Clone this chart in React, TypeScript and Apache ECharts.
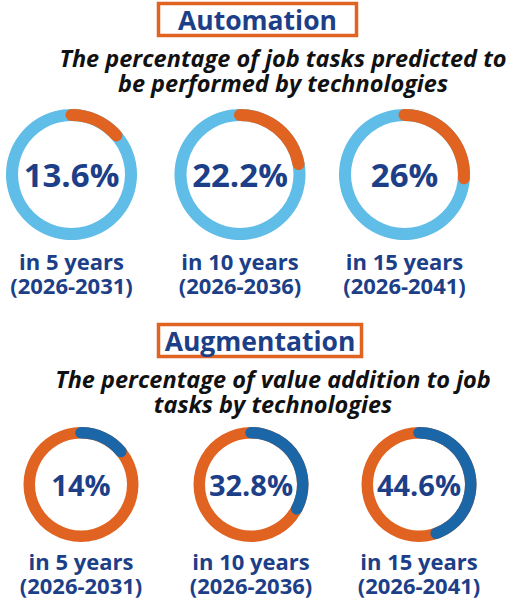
import React, { useEffect, useRef } from "react";
import * as echarts from "echarts";

const periodNames = ["in 5 years", "in 10 years", "in 15 years"];
const periodRanges = ["(2026-2031)", "(2026-2036)", "(2026-2041)"];
const automationValues = [13.6, 22.2, 26];
const augmentationValues = [14, 32.8, 44.6];
const sectionTitles = ["Automation", "Augmentation"];
const automationSubtitle = ["The percentage of job tasks predicted to", "be performed by technologies"];
const augmentationSubtitle = ["The percentage of value addition to job", "tasks by technologies"];

const NAVY = "#1d3f88";
const ORANGE = "#e06322";
const LIGHTBLUE = "#5fbde7";
const BLUE = "#1b66a7";
const FONT = "'Open Sans', 'Noto Sans', sans-serif";

function ring(
  value: number,
  cx: number,
  cy: number,
  r: number,
  w: number,
  bg: string,
  fg: string,
  detailSize: number
) {
  return {
    type: "gauge",
    center: [cx, cy],
    radius: r,
    startAngle: 90,
    endAngle: -270,
    min: 0,
    max: 100,
    pointer: { show: false },
    axisTick: { show: false },
    splitLine: { show: false },
    axisLabel: { show: false },
    axisLine: { lineStyle: { width: w, color: [[1, bg]] } },
    progress: { show: true, width: w, roundCap: true, itemStyle: { color: fg } },
    anchor: { show: false },
    title: { show: false },
    detail: {
      show: true,
      offsetCenter: [0, 0],
      valueAnimation: false,
      formatter: (v: number) => `${v}%`,
      color: NAVY,
      fontSize: detailSize,
      fontWeight: "bold",
      fontFamily: FONT,
    },
    data: [{ value }],
  };
}

const txt = (text: string, x: number, y: number, font: string, fill: string) => ({
  type: "text",
  x,
  y,
  style: { text, fill, font, align: "center", verticalAlign: "middle" },
});

export default function App() {
  const ref = useRef<HTMLDivElement>(null);
  useEffect(() => {
    if (!ref.current) return;
    const chart = echarts.init(ref.current, undefined, { renderer: "svg" });
    const topCx = [71.5, 240, 404.5];
    const botCx = [81, 251, 419];
    const series: any[] = [];
    const graphic: any[] = [];
    const labelFont = `bold 22px ${FONT}`;
    automationValues.forEach((v, i) => {
      series.push(ring(v, topCx[i], 174.5, 65.5, 12, LIGHTBLUE, ORANGE, 33));
      graphic.push(txt(periodNames[i], topCx[i], 261, labelFont, NAVY));
      graphic.push(txt(periodRanges[i], topCx[i], 285, labelFont, NAVY));
    });
    augmentationValues.forEach((v, i) => {
      series.push(ring(v, botCx[i], 484.5, 57.5, 11.5, ORANGE, BLUE, 29));
      graphic.push(txt(periodNames[i], botCx[i], 561, labelFont, NAVY));
      graphic.push(txt(periodRanges[i], botCx[i], 585, labelFont, NAVY));
    });
    const titleBox = (text: string, x: number, y: number, w: number, h: number) => [
      {
        type: "rect",
        shape: { x, y, width: w, height: h },
        style: { fill: "#fff", stroke: ORANGE, lineWidth: 3.5 },
      },
      txt(text, x + w / 2, y + h / 2, `bold 26.5px ${FONT}`, NAVY),
    ];
    const subFont = `italic bold 23.5px ${FONT}`;
    graphic.push(...titleBox(sectionTitles[0], 158.5, 3.5, 198, 32));
    graphic.push(...titleBox(sectionTitles[1], 158.5, 324.5, 203, 32));
    graphic.push(txt(automationSubtitle[0], 283, 58, subFont, "#111"));
    graphic.push(txt(automationSubtitle[1], 283, 83, subFont, "#111"));
    graphic.push(txt(augmentationSubtitle[0], 273, 379, subFont, "#111"));
    graphic.push(txt(augmentationSubtitle[1], 273, 404, subFont, "#111"));
    chart.setOption({
      animation: false,
      backgroundColor: "#fff",
      series,
      graphic,
    });
    return () => chart.dispose();
  }, []);
  return (
    <div
      ref={ref}
      style={{ position: "fixed", left: 0, top: 0, width: 518, height: 608 }}
    />
  );
}
